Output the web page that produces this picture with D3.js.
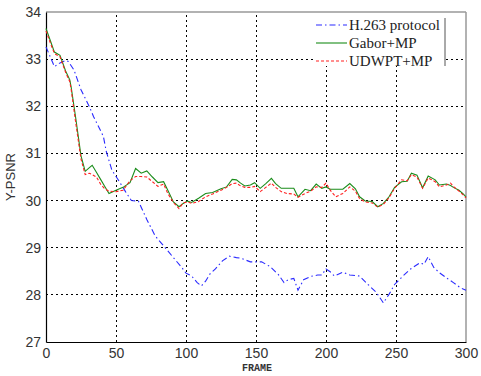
<!DOCTYPE html>
<html>
<head>
<meta charset="utf-8">
<script src="https://cdn.jsdelivr.net/npm/d3@7"></script>
<style>
  body { margin: 0; background: #fff; }
  svg { display: block; }
</style>
</head>
<body>
<svg id="chart" width="481" height="376"></svg>
<script>
var w = 481, h = 376;
var margin = {left: 46, right: 15, top: 12, bottom: 34};

// frame numbers where Gabor / UDWPT values were read
var mpFrames = [0, 3, 6, 10, 14, 17, 18, 21, 25, 28, 31, 33, 36, 39, 42, 45, 50, 55, 60, 64,
  68, 72, 76, 80, 84, 87, 91, 95, 98, 101, 104, 109, 114, 119, 125, 129, 133, 136, 139, 142,
  146, 149, 153, 157, 161, 164, 168, 172, 177, 180, 185, 189, 193, 197, 200, 203, 207, 212, 217, 221,
  224, 228, 233, 237, 241, 245, 249, 254, 258, 261, 265, 269, 273, 278, 281, 286, 289, 291, 295, 298, 300];

var gaborMP = [33.65, 33.4, 33.15, 33.08, 32.75, 32.56, 32.4, 31.8, 30.95, 30.62, 30.7, 30.75, 30.6, 30.45, 30.3, 30.15, 30.22, 30.28, 30.38, 30.68,
  30.58, 30.63, 30.5, 30.38, 30.4, 30.22, 29.97, 29.87, 29.94, 29.99, 29.96, 30.05, 30.15, 30.17, 30.25, 30.29, 30.45, 30.44, 30.37, 30.31,
  30.33, 30.38, 30.26, 30.36, 30.47, 30.36, 30.26, 30.26, 30.26, 30.08, 30.24, 30.21, 30.35, 30.26, 30.29, 30.24, 30.24, 30.24, 30.36, 30.25,
  30.08, 29.99, 29.98, 29.87, 29.94, 30.08, 30.28, 30.4, 30.41, 30.58, 30.54, 30.27, 30.52, 30.44, 30.33, 30.35, 30.32, 30.28, 30.22, 30.14, 30.08];

var udwptMP = [33.6, 33.35, 33.12, 33.05, 32.72, 32.52, 32.35, 31.7, 30.88, 30.55, 30.58, 30.55, 30.5, 30.35, 30.25, 30.2, 30.19, 30.22, 30.42, 30.51,
  30.51, 30.5, 30.4, 30.3, 30.35, 30.15, 29.96, 29.83, 29.95, 29.97, 29.94, 29.98, 30.08, 30.14, 30.22, 30.28, 30.36, 30.37, 30.31, 30.28,
  30.28, 30.3, 30.19, 30.28, 30.37, 30.28, 30.19, 30.15, 30.14, 30.07, 30.15, 30.2, 30.29, 30.28, 30.37, 30.22, 30.08, 30.15, 30.29, 30.2,
  30.04, 29.97, 29.95, 29.86, 29.92, 30.06, 30.26, 30.44, 30.42, 30.55, 30.5, 30.26, 30.48, 30.4, 30.29, 30.33, 30.37, 30.3, 30.2, 30.12, 30.06];

// H.263 read at its own frames
var h263Frames = [0, 6, 10, 14, 16, 20, 25, 31, 34, 37, 41, 43, 47, 52, 57, 61, 66, 72, 78, 84,
  91, 97, 100, 104, 108, 111, 114, 117, 121, 126, 131, 136, 139, 146, 154, 160, 166, 170, 173, 177,
  180, 184, 189, 194, 197, 200, 203, 206, 212, 217, 224, 230, 236, 241, 245, 249, 255, 260, 267, 270,
  273, 277, 281, 286, 291, 296, 300];
var h263 = [33.26, 32.84, 32.92, 32.97, 32.95, 32.77, 32.35, 31.99, 31.78, 31.6, 31.36, 31.05, 30.65, 30.42, 30.18, 30.0, 29.99, 29.6, 29.25, 29.04,
  28.79, 28.58, 28.46, 28.4, 28.26, 28.19, 28.29, 28.44, 28.55, 28.72, 28.82, 28.79, 28.78, 28.7, 28.7, 28.6, 28.43, 28.26, 28.32, 28.35,
  28.1, 28.32, 28.39, 28.42, 28.42, 28.55, 28.49, 28.4, 28.48, 28.42, 28.4, 28.22, 28.05, 27.83, 28.01, 28.22, 28.4, 28.54, 28.68, 28.65,
  28.81, 28.58, 28.47, 28.36, 28.26, 28.15, 28.1];

var xTicks = [0, 50, 100, 150, 200, 250, 300];
var yTicks = [27, 28, 29, 30, 31, 32, 33, 34];
var legendNames = ["H.263 protocol", "Gabor+MP", "UDWPT+MP"];

var svg = d3.select("#chart");

var x = d3.scaleLinear().domain([0, 300]).range([margin.left, w - margin.right]);
var y = d3.scaleLinear().domain([27, 34]).range([h - margin.bottom, margin.top]);

// grid
svg.append("g").selectAll("line")
  .data(xTicks.slice(1, -1))
  .enter().append("line")
  .attr("x1", d => x(d)).attr("x2", d => x(d))
  .attr("y1", y(27)).attr("y2", y(34))
  .attr("stroke", "#000").attr("stroke-width", 1)
  .attr("stroke-dasharray", "2,3").attr("shape-rendering", "crispEdges");

svg.append("g").selectAll("line")
  .data(yTicks.slice(1, -1))
  .enter().append("line")
  .attr("x1", x(0)).attr("x2", x(300))
  .attr("y1", d => y(d)).attr("y2", d => y(d))
  .attr("stroke", "#000").attr("stroke-width", 1)
  .attr("stroke-dasharray", "2,3").attr("shape-rendering", "crispEdges");

// top / right box edges (grey)
svg.append("line")
  .attr("x1", x(0)).attr("x2", x(300)).attr("y1", y(34)).attr("y2", y(34))
  .attr("stroke", "#999").attr("stroke-width", 1.5);
svg.append("line")
  .attr("x1", x(300)).attr("x2", x(300)).attr("y1", y(34)).attr("y2", y(27))
  .attr("stroke", "#999").attr("stroke-width", 1.5);

// axes
var xAxis = svg.append("g")
  .attr("transform", "translate(0," + y(27) + ")")
  .call(d3.axisBottom(x).tickValues(xTicks).tickFormat(d3.format("d")).tickSize(0).tickPadding(6));
var yAxis = svg.append("g")
  .attr("transform", "translate(" + x(0) + ",0)")
  .call(d3.axisLeft(y).tickValues(yTicks).tickFormat(d3.format("d")).tickSize(0).tickPadding(5));

[xAxis, yAxis].forEach(function(a) {
  a.select(".domain").attr("stroke", "#000").attr("stroke-width", 1.2);
  a.selectAll("text")
    .attr("font-family", "Liberation Sans, Arial, sans-serif")
    .attr("font-size", "14px")
    .attr("fill", "#333");
});

var line = d3.line()
  .x(d => x(d[0]))
  .y(d => y(d[1]));

function pairs(fr, vals) {
  return fr.map(function(f, i) { return [f, vals[i]]; });
}

svg.append("path")
  .datum(pairs(h263Frames, h263))
  .attr("d", line)
  .attr("fill", "none").attr("stroke", "#2a2aff").attr("stroke-width", 1.1)
  .attr("stroke-dasharray", "6,3,1.5,3");

svg.append("path")
  .datum(pairs(mpFrames, gaborMP))
  .attr("d", line)
  .attr("fill", "none").attr("stroke", "#1a8c1a").attr("stroke-width", 1.1);

svg.append("path")
  .datum(pairs(mpFrames, udwptMP))
  .attr("d", line)
  .attr("fill", "none").attr("stroke", "#ff2020").attr("stroke-width", 1.1)
  .attr("stroke-dasharray", "3,2");

// legend
var lg = svg.append("g");
lg.append("rect")
  .attr("x", 313).attr("y", 15).attr("width", 132).attr("height", 51)
  .attr("fill", "#fff");
lg.append("line")
  .attr("x1", 445).attr("x2", 445).attr("y1", 18).attr("y2", 66)
  .attr("stroke", "#555").attr("stroke-width", 1);

var legStyles = [
  {color: "#2a2aff", dash: "6,3,1.5,3"},
  {color: "#1a8c1a", dash: null},
  {color: "#ff2020", dash: "3,2"}
];
legendNames.forEach(function(name, i) {
  var yy = 25 + i * 18;
  lg.append("line")
    .attr("x1", 316).attr("x2", 347).attr("y1", yy).attr("y2", yy)
    .attr("stroke", legStyles[i].color).attr("stroke-width", 1.1)
    .attr("stroke-dasharray", legStyles[i].dash);
  lg.append("text")
    .attr("x", 349).attr("y", yy + 5)
    .attr("font-family", "Liberation Serif, Times New Roman, serif")
    .attr("font-size", "15px")
    .attr("fill", "#222")
    .text(name);
});

// axis labels
svg.append("text")
  .attr("transform", "translate(15," + y(30.5) + ") rotate(-90)")
  .attr("text-anchor", "middle")
  .attr("font-family", "Liberation Sans, Arial, sans-serif")
  .attr("font-size", "13px")
  .attr("fill", "#333")
  .text("Y-PSNR");

svg.append("text")
  .attr("x", 257).attr("y", 371)
  .attr("text-anchor", "middle")
  .attr("font-family", "Liberation Mono, DejaVu Sans Mono, monospace")
  .attr("font-size", "10px")
  .attr("font-weight", "bold")
  .attr("fill", "#333")
  .text("FRAME");
</script>
</body>
</html>
